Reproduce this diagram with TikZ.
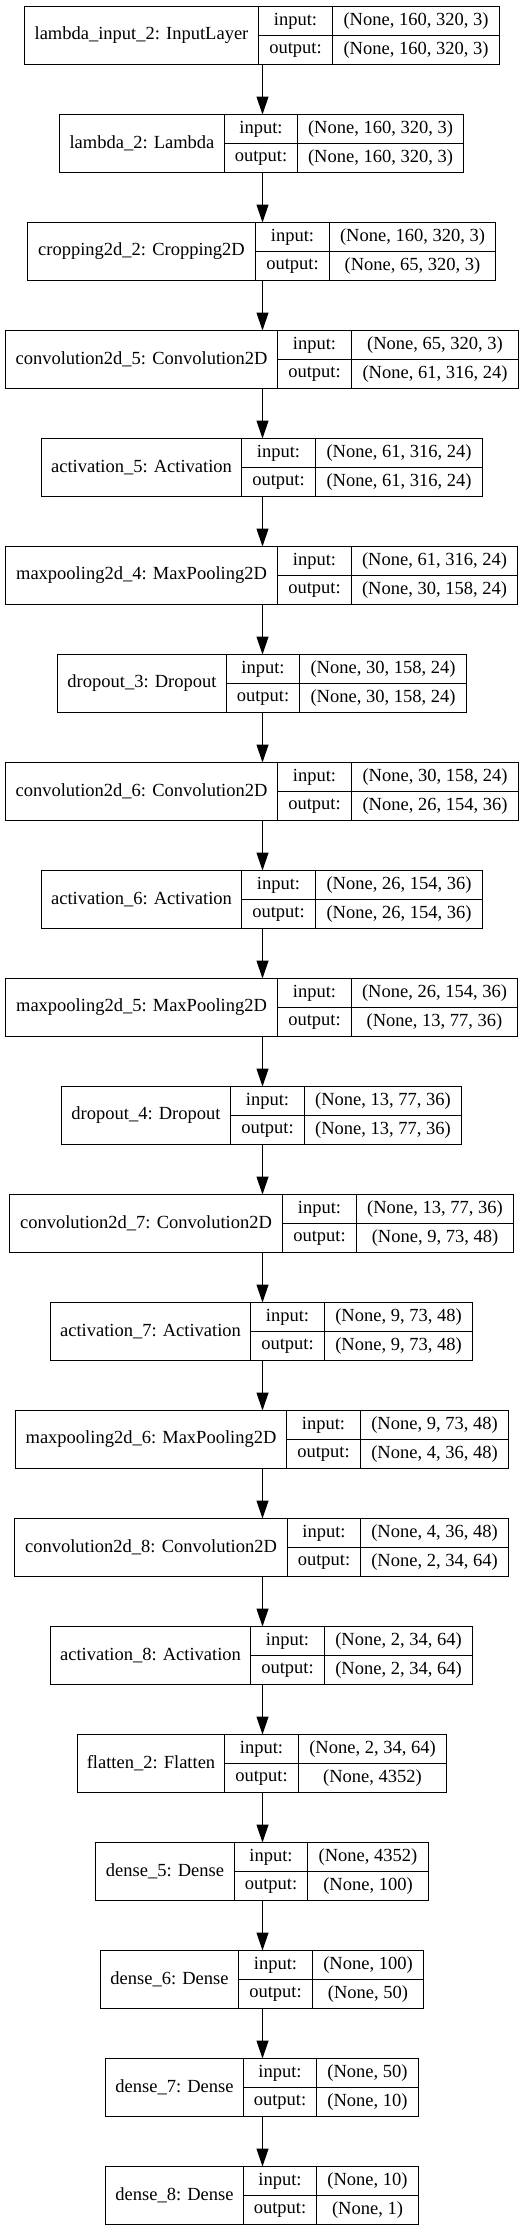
\documentclass[tikz,border=0pt]{standalone}
\usepackage{fontspec}
\setmainfont{Liberation Serif}
\usepackage{tikz}
\usetikzlibrary{arrows.meta}

\begin{document}
\begin{tikzpicture}[x=1pt, y=1pt,
    layer/.style={draw, line width=1.2pt, inner sep=0pt, outer sep=0pt, minimum height=58pt, anchor=north west},
    cell/.style={draw, line width=1.2pt, inner sep=0pt, outer sep=0pt, minimum height=29pt, anchor=north west, font=\fontsize{18.5pt}{22pt}\selectfont},
    ar/.style={line width=1.2pt, -{Triangle[length=18pt, width=12pt]}}]
  \useasboundingbox (0,0) rectangle (526,-2231);
  \coordinate (axis) at (262.5,0);

  % one box per layer: name, input shape, output shape, left edge, widths of the three columns
  \foreach \i/\lab/\inp/\outp/\xa/\wa/\wb/\wc in {
      1/{lambda\_input\_2: InputLayer}/{(None, 160, 320, 3)}/{(None, 160, 320, 3)}/24/234/74/167,
      2/{lambda\_2: Lambda}/{(None, 160, 320, 3)}/{(None, 160, 320, 3)}/59/165/73/166,
      3/{cropping2d\_2: Cropping2D}/{(None, 160, 320, 3)}/{(None, 65, 320, 3)}/27/228/74/166,
      4/{convolution2d\_5: Convolution2D}/{(None, 65, 320, 3)}/{(None, 61, 316, 24)}/5/272/74/167,
      5/{activation\_5: Activation}/{(None, 61, 316, 24)}/{(None, 61, 316, 24)}/41/200/74/167,
      6/{maxpooling2d\_4: MaxPooling2D}/{(None, 61, 316, 24)}/{(None, 30, 158, 24)}/5/272/74/166,
      7/{dropout\_3: Dropout}/{(None, 30, 158, 24)}/{(None, 30, 158, 24)}/57/169/73/167,
      8/{convolution2d\_6: Convolution2D}/{(None, 30, 158, 24)}/{(None, 26, 154, 36)}/5/272/74/167,
      9/{activation\_6: Activation}/{(None, 26, 154, 36)}/{(None, 26, 154, 36)}/41/200/74/167,
      10/{maxpooling2d\_5: MaxPooling2D}/{(None, 26, 154, 36)}/{(None, 13, 77, 36)}/5/272/74/166,
      11/{dropout\_4: Dropout}/{(None, 13, 77, 36)}/{(None, 13, 77, 36)}/61/169/74/157,
      12/{convolution2d\_7: Convolution2D}/{(None, 13, 77, 36)}/{(None, 9, 73, 48)}/9/273/74/157,
      13/{activation\_7: Activation}/{(None, 9, 73, 48)}/{(None, 9, 73, 48)}/50/200/74/148,
      14/{maxpooling2d\_6: MaxPooling2D}/{(None, 9, 73, 48)}/{(None, 4, 36, 48)}/15/271/74/148,
      15/{convolution2d\_8: Convolution2D}/{(None, 4, 36, 48)}/{(None, 2, 34, 64)}/14/273/73/148,
      16/{activation\_8: Activation}/{(None, 2, 34, 64)}/{(None, 2, 34, 64)}/50/200/74/148,
      17/{flatten\_2: Flatten}/{(None, 2, 34, 64)}/{(None, 4352)}/77/147/74/148,
      18/{dense\_5: Dense}/{(None, 4352)}/{(None, 100)}/95/139/73/121,
      19/{dense\_6: Dense}/{(None, 100)}/{(None, 50)}/100/138/74/111,
      20/{dense\_7: Dense}/{(None, 50)}/{(None, 10)}/105/138/73/102,
      21/{dense\_8: Dense}/{(None, 10)}/{(None, 1)}/105/138/73/102}
  {
    \node[layer, minimum width={(\wa+\wb+\wc)*1pt}] (b\i) at ({\xa+0.5},{-6.5-108*(\i-1)}) {};
    \node[cell, minimum width=\wa pt, minimum height=58pt] (n\i) at (b\i.north west) {\lab};
    \node[cell, minimum width=\wb pt] (ip\i) at (n\i.north east) {input:};
    \node[cell, minimum width=\wb pt] (op\i) at (ip\i.south west) {output:};
    \node[cell, minimum width=\wc pt] (iv\i) at (ip\i.north east) {\inp};
    \node[cell, minimum width=\wc pt] (ov\i) at (iv\i.south west) {\outp};
  }

  \foreach \i [evaluate=\i as \j using int(\i+1)] in {1,...,20}
    \draw[ar] (b\i.south -| axis) -- (b\j.north -| axis);
\end{tikzpicture}
\end{document}
